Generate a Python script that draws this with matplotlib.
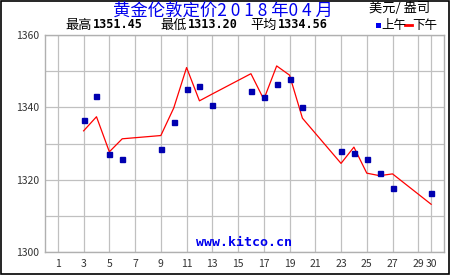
import matplotlib
matplotlib.use('Agg')
import matplotlib.pyplot as plt

plt.rcParams['font.family'] = ['Noto Sans CJK SC', 'DejaVu Sans']

# AM fix (上午) and PM fix (下午), April 2018
am_days = [3, 4, 5, 6, 9, 10, 11, 12, 13, 16, 17, 18, 19, 20, 23, 24, 25, 26, 27, 30]
am_vals = [1336.4, 1343.0, 1327.0, 1325.6, 1328.4, 1335.9, 1345.0, 1345.8, 1340.6,
           1344.4, 1342.8, 1346.4, 1347.8, 1340.0, 1327.8, 1327.3, 1325.6, 1321.8,
           1317.6, 1316.2]
pm_days = [3, 4, 5, 6, 9, 10, 11, 12, 13, 16, 17, 18, 19, 20, 23, 24, 25, 26, 27, 30]
pm_vals = [1333.5, 1337.4, 1327.7, 1331.3, 1332.2, 1339.8, 1351.0, 1341.8, 1343.7,
           1349.3, 1342.2, 1351.45, 1348.9, 1337.0, 1324.5, 1329.0, 1321.8, 1321.1,
           1321.6, 1313.2]

x_ticks = [1, 3, 5, 7, 9, 11, 13, 15, 17, 19, 21, 23, 25, 27, 29, 30]
y_labels = [1300, 1320, 1340, 1360]
y_grid = [1300, 1310, 1320, 1330, 1340, 1350, 1360]

W, H = 450, 275


def px(x, y):
    # pixel position (from top-left) -> figure fraction
    return x / W, 1 - y / H


fig = plt.figure(figsize=(4.5, 2.75), dpi=100)
fig.patch.set_facecolor('white')

# outer black frame
fig.add_artist(plt.Rectangle((0.002, 0.003), 0.995, 0.994, transform=fig.transFigure,
                             fill=False, edgecolor='black', linewidth=1.2))

ax = fig.add_axes([45 / W, 23 / H, 399 / W, 217 / H])
ax.set_xlim(0, 31)
ax.set_ylim(1300, 1360)

for x in x_ticks:
    ax.axvline(x, color='#c0c0c0', linewidth=0.9, zorder=0)
for y in y_grid:
    ax.axhline(y, color='#c0c0c0', linewidth=0.9, zorder=0)
for s in ax.spines.values():
    s.set_color('#b0b0b0')
    s.set_linewidth(1.0)

ax.plot(pm_days, pm_vals, color='#ff0000', linewidth=0.9, zorder=2)
ax.plot(am_days, am_vals, linestyle='none', marker='s', markersize=3.6,
        color='#0000b0', zorder=3)

ax.set_xticks(x_ticks)
ax.set_xticklabels([str(d) for d in x_ticks])
ax.set_yticks(y_labels)
ax.set_yticklabels([str(v) for v in y_labels])
ax.tick_params(length=0, labelsize=7.5, labelcolor='#333333', pad=4)
ax.tick_params(axis='x', pad=5)

fig.text(*px(223, 11), '黄金伦敦定价2 0 1 8 年0 4 月', color='#0000ee',
         fontsize=12.5, ha='center', va='center')
fig.text(*px(400, 9), '美元/ 盎司', color='black', fontsize=9.5,
         ha='center', va='center')

stats = [('最高', '1351.45', 65), ('最低', '1313.20', 160), ('平均', '1334.56', 250)]
for lab, num, x0 in stats:
    fig.text(*px(x0, 25), lab, fontsize=9.5, ha='left', va='center')
    fig.text(*px(x0 + 28, 25), num, fontsize=8.5, ha='left', va='center',
             family='DejaVu Sans Mono', weight='bold')

# legend
fig.add_artist(plt.Rectangle(px(376, 27.5), 5 / W, 5 / H, transform=fig.transFigure,
                             facecolor='#0000ee', edgecolor='none'))
fig.text(*px(381, 25), '上午', fontsize=9, ha='left', va='center')
fig.add_artist(plt.Line2D([405 / W, 412 / W], [1 - 25 / H, 1 - 25 / H],
                          transform=fig.transFigure, color='red', linewidth=2))
fig.text(*px(412, 25), '下午', fontsize=9, ha='left', va='center')

ax.text(0.5, 0.045, 'www.kitco.cn', transform=ax.transAxes, color='#0000ee',
        fontsize=9.5, ha='center', va='center', family='DejaVu Sans Mono',
        weight='bold', zorder=4)

fig.savefig('out.png', dpi=100)
